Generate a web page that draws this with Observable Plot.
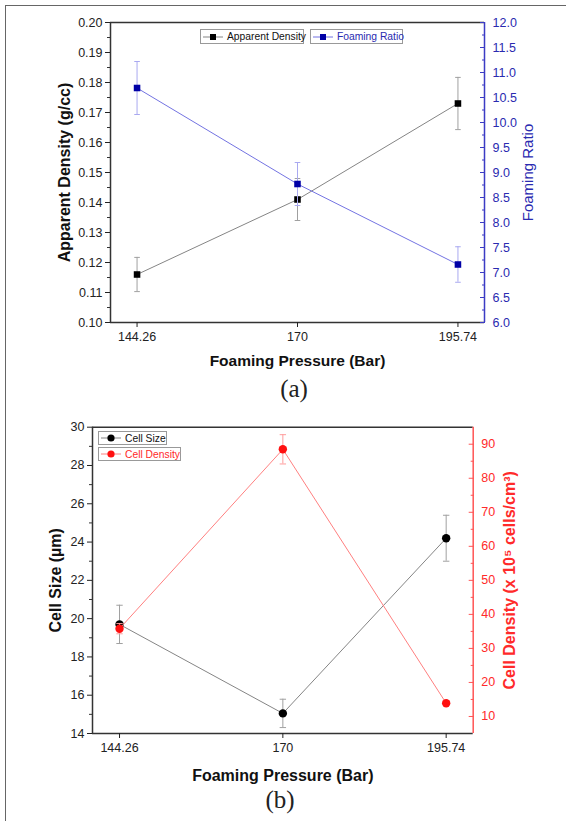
<!DOCTYPE html>
<html><head><meta charset="utf-8">
<script src="https://cdn.jsdelivr.net/npm/d3@7"></script>
<script src="https://cdn.jsdelivr.net/npm/@observablehq/plot@0.6"></script>
<style>
body{margin:0;background:#fff;font-family:"Liberation Sans",Arial,sans-serif;}
#root{position:relative;width:566px;height:821px;overflow:hidden;background:#fff;}
.frame{position:absolute;left:5px;top:5px;width:700px;height:900px;border-left:1.5px solid #666;border-top:1.5px solid #666;}
.layer{position:absolute;left:0;}
.layer svg{display:block;}
.cap{position:absolute;font-family:"Liberation Serif","Times New Roman",serif;font-size:25px;line-height:25px;color:#222;transform:translateX(-50%);white-space:nowrap;}
.leg{position:absolute;border:1px solid #999;background:#fff;font-size:10.3px;display:flex;align-items:center;white-space:nowrap;box-sizing:border-box;padding-right:2px;font-family:"Liberation Sans",Arial,sans-serif;}
.leg svg{flex:none;margin-right:2px;}
</style></head>
<body>
<div id="root">
  <div class="frame"></div>
  <div class="layer" id="a1" style="top:0"></div>
  <div class="layer" id="a2" style="top:0"></div>
  <div class="layer" id="b1" style="top:400px"></div>
  <div class="layer" id="b2" style="top:400px"></div>
  <div id="legends"></div>
  <div class="cap" style="left:294px;top:376px">(a)</div>
  <div class="cap" style="left:280px;top:787px">(b)</div>
</div>
<script>
// ---------- data ----------
const pressure = [144.26, 170, 195.74];
const pressureTicks = [144.26, 170, 195.74];
const apparentDensity = [0.116, 0.141, 0.173];
const apparentDensityErr = [0.0057, 0.007, 0.0087];
const foamingRatio = [10.69, 8.77, 7.16];
const foamingRatioErr = [0.53, 0.43, 0.355];
const cellSize = [19.7, 15.05, 24.2];
const cellSizeErr = [1.0, 0.74, 1.2];
const cellDensity = [35.8, 88.5, 13.9];
const cellDensityErr = [1.5, 4.3, 0.6];

const xDomain = [140, 200];
const densityDomain = [0.10, 0.20];
const ratioDomain = [6, 12];
const sizeDomain = [14, 30];
const cellDensityDomain = [5, 95];

const densityTicks = [0.10, 0.11, 0.12, 0.13, 0.14, 0.15, 0.16, 0.17, 0.18, 0.19, 0.20];
const ratioTicks = [6, 6.5, 7, 7.5, 8, 8.5, 9, 9.5, 10, 10.5, 11, 11.5, 12];
const sizeTicks = [14, 16, 18, 20, 22, 24, 26, 28, 30];
const cellDensityTicks = [10, 20, 30, 40, 50, 60, 70, 80, 90];

const xLabel = "Foaming Pressure (Bar)";
const labelDensity = "Apparent Density (g/cc)";
const labelRatio = "Foaming Ratio";
const labelSize = "Cell Size (\u00b5m)";
const labelCellDensity = "Cell Density (x 10\u2075 cells/cm\u00b3)";
const seriesNames = ["Apparent Density", "Foaming Ratio", "Cell Size", "Cell Density"];

// ---------- styling ----------
const FONT = "'Liberation Sans', Arial, sans-serif";
const AXIS = "#333";
const BLUE_AX = "#3b3bc4";
const BLUE_TXT = "#2a2ab0";
const BLUE_PT = "#0000a6";
const BLUE_LINE = "#7373e2";
const BLUE_ERR = "#a9a9f0";
const RED_AX = "#ff5555";
const RED_TXT = "#ff2a2a";
const RED_PT = "#ff1010";
const RED_LINE = "#ff8080";
const RED_ERR = "#ff9c9c";
const GREY_LINE = "#858585";
const GREY_ERR = "#a0a0a0";

const mk = (xs, ys, es) => xs.map((p, i) => ({p, v: ys[i], e: es[i]}));
const rowsAD = mk(pressure, apparentDensity, apparentDensityErr);
const rowsFR = mk(pressure, foamingRatio, foamingRatioErr);
const rowsCS = mk(pressure, cellSize, cellSizeErr);
const rowsCD = mk(pressure, cellDensity, cellDensityErr);

const cap = {draw(ctx, size) { const w = Math.sqrt(size / Math.PI); ctx.moveTo(-w, 0); ctx.lineTo(w, 0); }};
const minorOf = (ticks) => { const out = []; for (let i = 0; i < ticks.length - 1; i++) out.push((ticks[i] + ticks[i+1]) / 2); return out; };

function series(rows, {line, err, pt, symbol, r, capR}) {
  return [
    Plot.line(rows, {x: "p", y: "v", stroke: line, strokeWidth: 1}),
    Plot.ruleX(rows, {x: "p", y1: d => d.v - d.e, y2: d => d.v + d.e, stroke: err, strokeWidth: 1}),
    Plot.dot(rows, {x: "p", y: d => d.v + d.e, symbol: cap, r: capR, stroke: err, fill: "none", strokeWidth: 1}),
    Plot.dot(rows, {x: "p", y: d => d.v - d.e, symbol: cap, r: capR, stroke: err, fill: "none", strokeWidth: 1}),
    Plot.dot(rows, {x: "p", y: "v", symbol, r, fill: pt, stroke: "none"})
  ];
}

const style = {fontFamily: FONT, fontSize: "12.5px", background: "transparent", overflow: "visible"};

function leftPanel({height, margins, yDomain, ticks, fmt, rows, symbol, r, capR, yLabel, yLabelDx, xLabelDy, xLabelSize}) {
  return Plot.plot({
    width: 566, height, ...margins, style,
    x: {domain: xDomain, label: null},
    y: {domain: yDomain, label: null},
    marks: [
      Plot.ruleY(yDomain, {stroke: AXIS, strokeWidth: 1.5}),
      Plot.ruleX([xDomain[0]], {stroke: AXIS, strokeWidth: 1.5}),
      Plot.axisY({ticks: minorOf(ticks), tickSize: 3, tickFormat: () => "", color: AXIS, label: null}),
      Plot.axisY({ticks, tickSize: 5, tickPadding: 3, tickFormat: fmt, color: "#222", label: null}),
      Plot.axisX({ticks: pressureTicks, tickSize: 5, tickPadding: 5, tickFormat: d => String(d), color: "#222", label: null}),
      ...series(rows, {line: GREY_LINE, err: GREY_ERR, pt: "#000", symbol, r, capR}),
      Plot.text([xLabel], {text: d => d, frameAnchor: "bottom", lineAnchor: "middle", textAnchor: "middle", dy: xLabelDy, fontWeight: "bold", fontSize: xLabelSize, fill: "#111"}),
      Plot.text([yLabel], {text: d => d, frameAnchor: "left", lineAnchor: "middle", textAnchor: "middle", rotate: -90, dx: yLabelDx, fontWeight: "bold", fontSize: 16, fill: "#111"})
    ]
  });
}

function rightPanel({height, margins, yDomain, ticks, fmt, rows, symbol, r, capR, axColor, txtColor, line, err, pt, yLabel, yLabelDx, yLabelBold, yLabelSize}) {
  return Plot.plot({
    width: 566, height, ...margins, style,
    x: {domain: xDomain, axis: null, label: null},
    y: {domain: yDomain, label: null},
    marks: [
      ...series(rows, {line, err, pt, symbol, r, capR}),
      Plot.ruleX([xDomain[1]], {stroke: axColor, strokeWidth: 1.5}),
      Plot.axisY({anchor: "right", ticks: minorOf(ticks), tickSize: 3, dx: -3, tickFormat: () => "", color: axColor, label: null}),
      Plot.axisY({anchor: "right", ticks, tickSize: 5, dx: -5, tickFormat: () => "", color: axColor, label: null}),
      Plot.axisY({anchor: "right", ticks, tickSize: 0, tickPadding: 8, tickFormat: fmt, color: txtColor, label: null}),
      Plot.text([yLabel], {text: d => d, frameAnchor: "right", lineAnchor: "middle", textAnchor: "middle", rotate: -90, dx: yLabelDx, fontWeight: yLabelBold ? "bold" : "normal", fontSize: yLabelSize, fill: txtColor})
    ]
  });
}

const mA = {marginTop: 22, marginBottom: 78, marginLeft: 110, marginRight: 82};
const mB = {marginTop: 26.7, marginBottom: 88, marginLeft: 92, marginRight: 93.3};

document.getElementById("a1").append(leftPanel({height: 400, margins: mA, yDomain: densityDomain, ticks: densityTicks, fmt: d3.format(".2f"), rows: rowsAD, symbol: "square", r: 3.7, capR: 2.8, yLabel: labelDensity, yLabelDx: -46, xLabelDy: 39, xLabelSize: 15.5}));
document.getElementById("a2").append(rightPanel({height: 400, margins: mA, yDomain: ratioDomain, ticks: ratioTicks, fmt: d3.format(".1f"), rows: rowsFR, symbol: "square", r: 3.7, capR: 2.8, axColor: BLUE_AX, txtColor: BLUE_TXT, line: BLUE_LINE, err: BLUE_ERR, pt: BLUE_PT, yLabel: labelRatio, yLabelDx: 44, yLabelBold: false, yLabelSize: 15}));
document.getElementById("b1").append(leftPanel({height: 421, margins: mB, yDomain: sizeDomain, ticks: sizeTicks, fmt: d => String(d), rows: rowsCS, symbol: "circle", r: 4.2, capR: 3.2, yLabel: labelSize, yLabelDx: -37, xLabelDy: 42, xLabelSize: 16}));
document.getElementById("b2").append(rightPanel({height: 421, margins: mB, yDomain: cellDensityDomain, ticks: cellDensityTicks, fmt: d => String(d), rows: rowsCD, symbol: "circle", r: 4.2, capR: 3.2, axColor: RED_AX, txtColor: RED_TXT, line: RED_LINE, err: RED_ERR, pt: RED_PT, yLabel: labelCellDensity, yLabelDx: 37, yLabelBold: true, yLabelSize: 16}));

// ---------- legends ----------
function legendItem({left, top, width, height, name, color, line, shape}) {
  const div = document.createElement("div");
  div.className = "leg";
  Object.assign(div.style, {left: left + "px", top: top + "px", width: width + "px", height: height + "px", color});
  const fillC = color === "#111" ? "#000" : (shape === "square" ? BLUE_PT : RED_PT);
  const mark = shape === "square"
    ? `<rect x="9" y="3" width="6" height="6" fill="${fillC}"/>`
    : `<circle cx="12" cy="6" r="3.6" fill="${fillC}"/>`;
  div.innerHTML = `<svg width="24" height="12"><line x1="2" x2="22" y1="6" y2="6" stroke="${line}" stroke-width="1"/>${mark}</svg><span>${name}</span>`;
  document.getElementById("legends").append(div);
}
legendItem({left: 200, top: 29, width: 104, height: 15, name: seriesNames[0], color: "#111", line: GREY_LINE, shape: "square"});
legendItem({left: 310, top: 29, width: 93, height: 15, name: seriesNames[1], color: BLUE_TXT, line: BLUE_LINE, shape: "square"});
legendItem({left: 98, top: 431, width: 69, height: 14, name: seriesNames[2], color: "#111", line: GREY_LINE, shape: "circle"});
legendItem({left: 98, top: 447, width: 83, height: 14, name: seriesNames[3], color: RED_TXT, line: RED_LINE, shape: "circle"});
</script>
</body></html>
